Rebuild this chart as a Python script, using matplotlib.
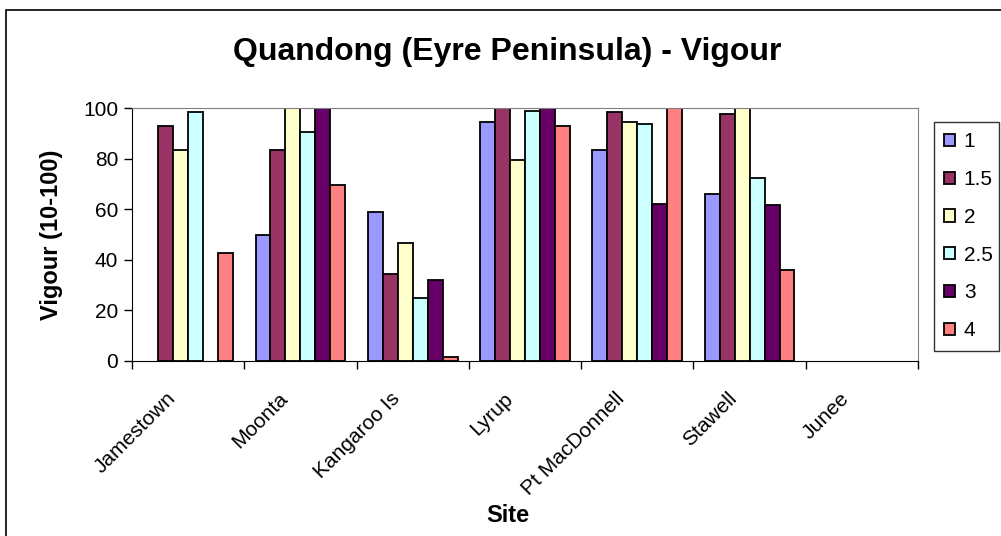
import matplotlib
matplotlib.use('Agg')
import matplotlib.pyplot as plt
import numpy as np
from matplotlib.patches import Rectangle

plt.rcParams['font.family'] = ['Liberation Sans', 'DejaVu Sans']

sites = ['Jamestown', 'Moonta', 'Kangaroo Is', 'Lyrup', 'Pt MacDonnell', 'Stawell', 'Junee']
series = ['1', '1.5', '2', '2.5', '3', '4']
nan = np.nan
v1 = [nan, 50, 59, 94.5, 83.5, 66, nan]
v15 = [93, 83.5, 34.5, 100, 98.5, 97.5, nan]
v2 = [83.5, 100, 46.5, 79.5, 94.5, 100, nan]
v25 = [98.5, 90.5, 25, 99, 93.5, 72.5, nan]
v3 = [nan, 100, 32, 100, 62, 61.5, nan]
v4 = [42.5, 69.5, 1.5, 93, 100, 36, nan]
colors = ['#9999FF', '#993366', '#FFFFCC', '#CCFFFF', '#660066', '#FF8080']

W, H = 1001, 536
fig = plt.figure(figsize=(W / 100, H / 100), dpi=100)
ax = fig.add_axes([132 / W, 1 - 361 / H, (918 - 132) / W, (361 - 108) / H])

# outer chart frame
fig.patches.append(Rectangle((6 / W, -0.1), 1.2, 1 - 10 / H + 0.1, transform=fig.transFigure,
                             fill=False, edgecolor='black', linewidth=1.2))

x = np.arange(len(sites))
bw = 1 / 7.5
for i, (vals, c, lab) in enumerate(zip([v1, v15, v2, v25, v3, v4], colors, series)):
    ax.bar(x - 0.4 + bw * (i + 0.5), vals, bw, color=c, edgecolor='black', linewidth=1.3, label=lab)

ax.set_xlim(-0.5, len(sites) - 0.5)
ax.set_ylim(0, 100)
ax.set_yticks([0, 20, 40, 60, 80, 100])
ax.tick_params(axis='y', labelsize=15, length=6, width=1, direction='out', pad=4)
ax.set_xticks(np.arange(len(sites) + 1) - 0.5)
ax.set_xticklabels([])
ax.tick_params(axis='x', length=6, width=1, direction='out')
for xi, s in zip(x, sites):
    ax.annotate(s, xy=(xi, 0), xycoords='data', xytext=(-16, -20), textcoords='offset points',
                rotation=45, ha='right', va='top', rotation_mode='anchor', fontsize=15)

for sp in ['top', 'right']:
    ax.spines[sp].set_color('#808080')
ax.spines['left'].set_color('black')
ax.spines['bottom'].set_color('black')

fig.text(507 / W, 1 - 52 / H, 'Quandong (Eyre Peninsula) - Vigour', ha='center', va='center',
         fontsize=23, fontweight='bold')
fig.text(52 / W, 1 - 235 / H, 'Vigour (10-100)', ha='center', va='center', rotation=90,
         fontsize=17, fontweight='bold')
fig.text(508 / W, 1 - 516 / H, 'Site', ha='center', va='center', fontsize=17, fontweight='bold')

leg = ax.legend(loc='upper left', bbox_to_anchor=(934 / W, 1 - 351 / H, 65 / W, (351 - 122) / H),
                bbox_transform=fig.transFigure, mode='expand', fontsize=15, frameon=True, fancybox=False,
                handlelength=0.53, handleheight=0.53, handletextpad=0.4, labelspacing=0.9,
                borderaxespad=0, borderpad=0.5)
leg.get_frame().set_edgecolor('black')
leg.get_frame().set_linewidth(1)

plt.savefig('out.png', dpi=100)
